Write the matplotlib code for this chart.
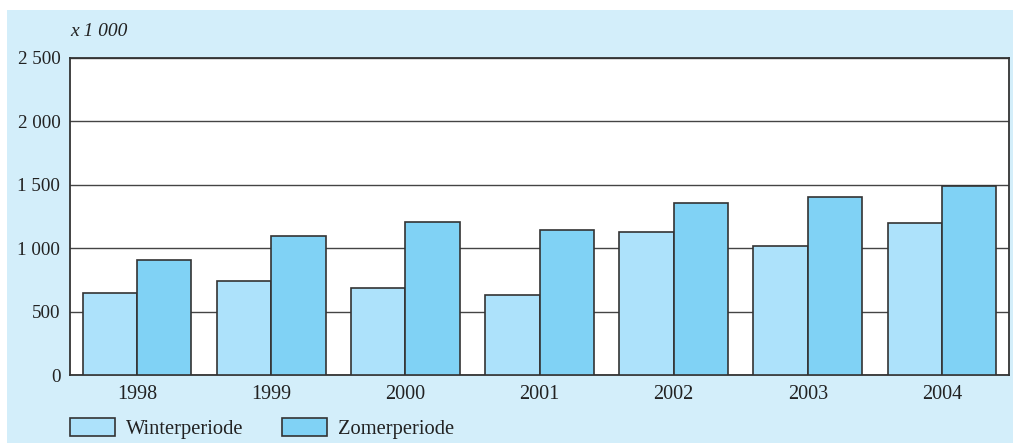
import matplotlib
matplotlib.use("Agg")
import matplotlib.pyplot as plt
from matplotlib.patches import Rectangle
import numpy as np

years = ["1998", "1999", "2000", "2001", "2002", "2003", "2004"]
winter = [650, 740, 690, 630, 1130, 1020, 1200]
zomer = [905, 1100, 1210, 1145, 1360, 1400, 1490]
yticks = [0, 500, 1000, 1500, 2000, 2500]
ytick_labels = ["0", "500", "1 000", "1 500", "2 000", "2 500"]

plt.rcParams["font.family"] = ["Liberation Serif", "DejaVu Serif"]

W, H = 1013, 443
fig = plt.figure(figsize=(W / 100, H / 100), dpi=100)
fig.patch.set_facecolor("white")
fig.patches.append(Rectangle((7 / W, 0), 1 - 7 / W, (H - 10) / H,
                             transform=fig.transFigure, facecolor="#d3eefa",
                             edgecolor="none", zorder=-10))

ax = fig.add_axes([70 / W, (H - 375) / H, (1009 - 70) / W, (375 - 58) / H])
ax.set_facecolor("white")

x = np.arange(len(years))
bw = 0.405
c_w = "#ade2fb"
c_z = "#80d2f5"
ax.bar(x - bw / 2, winter, bw, color=c_w, edgecolor="#333333", linewidth=1.2,
       label="Winterperiode", zorder=3)
ax.bar(x + bw / 2, zomer, bw, color=c_z, edgecolor="#333333", linewidth=1.2,
       label="Zomerperiode", zorder=3)

ax.set_xlim(-0.5, len(years) - 0.5)
ax.set_ylim(0, 2500)
ax.set_yticks(yticks)
ax.set_yticklabels(ytick_labels, fontsize=13.7, color="#222222")
ax.set_xticks(x)
ax.set_xticklabels(years, fontsize=14.5, color="#222222")
ax.tick_params(axis="both", length=0, pad=7)
ax.tick_params(axis="y", pad=7)
ax.yaxis.grid(True, color="#444444", linewidth=1.0, zorder=0)
ax.set_axisbelow(True)
for s in ax.spines.values():
    s.set_color("#333333")
    s.set_linewidth(1.3)

fig.text(70 / W, 1 - 32 / H, "x 1 000", fontsize=14, style="italic",
         color="#222222", ha="left", va="center")

leg = ax.legend(loc="upper left", bbox_to_anchor=(70 / W, 1 - 418 / H),
                bbox_transform=fig.transFigure, ncol=2, frameon=False,
                fontsize=14.8, handlelength=2.2, handleheight=1.0,
                handletextpad=0.5, columnspacing=1.9, borderpad=0,
                borderaxespad=0)
for t in leg.get_texts():
    t.set_color("#222222")

fig.savefig("out.png", dpi=100, facecolor=fig.get_facecolor())
